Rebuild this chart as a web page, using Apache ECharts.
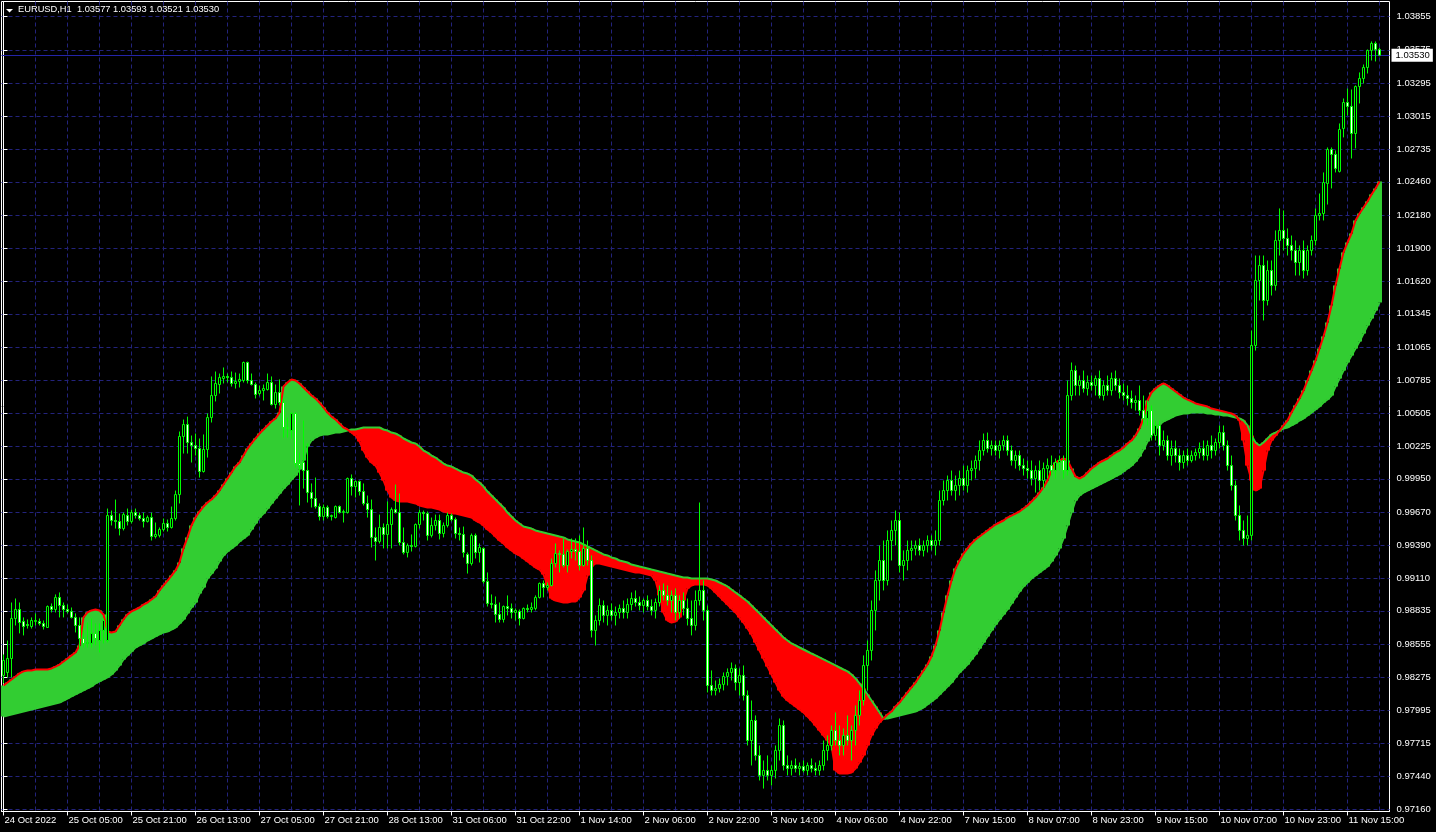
<!DOCTYPE html>
<html><head><meta charset="utf-8">
<script src="https://cdn.jsdelivr.net/npm/echarts@6/dist/echarts.min.js"></script>
<style>html,body{margin:0;padding:0;background:#000;}#c{width:1436px;height:832px;}</style>
</head><body><div id="c"></div>
<script>
const symbolName = 'EURUSD,H1';
const xTickLabels = ['24 Oct 2022','25 Oct 05:00','25 Oct 21:00','26 Oct 13:00','27 Oct 05:00','27 Oct 21:00','28 Oct 13:00','31 Oct 06:00','31 Oct 22:00','1 Nov 14:00','2 Nov 06:00','2 Nov 22:00','3 Nov 14:00','4 Nov 06:00','4 Nov 22:00','7 Nov 15:00','8 Nov 07:00','8 Nov 23:00','9 Nov 15:00','10 Nov 07:00','10 Nov 23:00','11 Nov 15:00'];
const yTickLabels = ['0.97160','0.97440','0.97715','0.97995','0.98275','0.98555','0.98835','0.99110','0.99390','0.99670','0.99950','1.00225','1.00505','1.00785','1.01065','1.01345','1.01620','1.01900','1.02180','1.02460','1.02735','1.03015','1.03295','1.03575','1.03855'];

const openP = [
0.98289,0.98314,0.98432,0.98770,0.98846,0.98745,0.98719,0.98702,0.98745,0.98745,
0.98728,0.98694,0.98871,0.98846,0.98948,0.98880,0.98846,0.98830,0.98779,0.98711,
0.98601,0.98559,0.98559,0.98644,0.98584,0.98669,0.98584,0.99640,0.99598,0.99590,
0.99530,0.99640,0.99590,0.99665,0.99640,0.99615,0.99590,0.99623,0.99463,0.99472,
0.99522,0.99573,0.99539,0.99615,0.99817,1.00308,1.00409,1.00257,1.00232,1.00206,
1.00012,1.00198,1.00468,1.00654,1.00747,1.00798,1.00815,1.00806,1.00756,1.00773,
1.00781,1.00933,1.00781,1.00747,1.00671,1.00696,1.00705,1.00764,1.00578,1.00679,
1.00595,1.00384,1.00358,1.00502,1.00079,1.00088,1.00020,0.99834,0.99784,0.99716,
0.99632,0.99708,0.99632,0.99623,0.99716,0.99665,0.99665,0.99953,0.99885,0.99928,
0.99843,0.99742,0.99690,0.99455,0.99421,0.99539,0.99480,0.99564,0.99690,0.99665,
0.99412,0.99328,0.99387,0.99379,0.99564,0.99665,0.99657,0.99472,0.99556,0.99598,
0.99488,0.99556,0.99640,0.99606,0.99488,0.99480,0.99311,0.99235,0.99472,0.99328,
0.99362,0.99083,0.98897,0.98888,0.98804,0.98762,0.98871,0.98855,0.98821,0.98830,
0.98770,0.98855,0.98846,0.98855,0.98948,0.99066,0.99032,0.99049,0.99235,0.99319,
0.99311,0.99218,0.99336,0.99353,0.99336,0.99218,0.99362,0.99260,0.98669,0.98753,
0.98880,0.98796,0.98838,0.98796,0.98821,0.98855,0.98821,0.98888,0.98939,0.98905,
0.98880,0.98922,0.98871,0.98838,0.98905,0.99007,0.98965,0.98922,0.98965,0.98821,
0.98922,0.98855,0.98770,0.98711,0.98922,0.99007,0.98838,0.98204,0.98162,0.98179,
0.98213,0.98280,0.98314,0.98348,0.98229,0.98289,0.98120,0.97739,0.97908,0.97613,
0.97444,0.97486,0.97444,0.97486,0.97655,0.97866,0.97528,0.97503,0.97528,0.97503,
0.97520,0.97486,0.97528,0.97503,0.97486,0.97528,0.97655,0.97697,0.97824,0.97739,
0.97697,0.97782,0.97739,0.97824,0.97951,0.98077,0.98373,0.98500,0.98838,0.99091,
0.99260,0.99091,0.99429,0.99514,0.99598,0.99218,0.99260,0.99345,0.99362,0.99387,
0.99345,0.99387,0.99429,0.99387,0.99429,0.99767,0.99851,0.99936,0.99851,0.99894,
0.99953,0.99894,1.00020,1.00037,1.00105,1.00189,1.00274,1.00206,1.00232,1.00189,
1.00232,1.00274,1.00189,1.00105,1.00147,1.00062,1.00037,1.00020,0.99953,1.00020,
0.99936,1.00037,1.00062,1.00020,1.00088,1.00105,1.00020,1.00654,1.00865,1.00739,
1.00781,1.00713,1.00764,1.00739,1.00798,1.00654,1.00739,1.00696,1.00798,1.00739,
1.00679,1.00654,1.00629,1.00595,1.00612,1.00527,1.00460,1.00527,1.00316,1.00401,
1.00232,1.00274,1.00147,1.00206,1.00147,1.00088,1.00147,1.00105,1.00147,1.00172,
1.00206,1.00147,1.00232,1.00189,1.00257,1.00341,1.00232,1.00062,0.99894,0.99640,
0.99514,0.99446,0.99472,1.01077,1.01626,1.01753,1.01457,1.01710,1.01584,1.01964,
1.02049,1.01981,1.01922,1.01880,1.01778,1.01880,1.01710,1.01880,1.01964,1.02175,
1.02192,1.02446,1.02733,1.02691,1.02548,1.02911,1.03130,1.03097,1.02868,1.03265,
1.03333,1.03426,1.03570,1.03629,1.03577];

const highP = [
0.98466,0.98584,0.98905,0.98939,0.98905,0.98779,0.98762,0.98779,0.98813,0.98770,
0.98753,0.98880,0.98897,0.98973,0.98990,0.98905,0.98888,0.98863,0.98813,0.98779,
0.98669,0.98736,0.98770,0.98728,0.98728,0.98770,0.99699,0.99682,0.99775,0.99657,
0.99665,0.99699,0.99690,0.99699,0.99665,0.99665,0.99640,0.99665,0.99581,0.99539,
0.99615,0.99606,0.99716,0.99851,1.00350,1.00451,1.00476,1.00316,1.00333,1.00291,
1.00325,1.00502,1.00815,1.00857,1.00840,1.00891,1.00840,1.00857,1.00848,1.00840,
1.00941,1.00941,1.00840,1.00764,1.00739,1.00747,1.00840,1.00815,1.00747,1.00790,
1.00629,1.00468,1.00510,1.00510,1.00172,1.00443,1.00249,0.99911,0.99961,0.99742,
0.99733,0.99725,0.99648,0.99725,0.99725,0.99690,0.99961,0.99987,0.99936,0.99936,
0.99911,0.99809,0.99775,0.99539,0.99648,0.99573,0.99759,0.99708,0.99902,0.99826,
0.99539,0.99404,0.99480,0.99573,0.99690,0.99682,0.99674,0.99623,0.99648,0.99648,
0.99581,0.99665,0.99657,0.99623,0.99539,0.99547,0.99328,0.99488,0.99488,0.99404,
0.99370,0.99159,0.98973,0.98956,0.98905,0.98880,0.98965,0.98897,0.98855,0.98846,
0.98863,0.98888,0.98905,0.98965,0.99074,0.99091,0.99074,0.99277,0.99404,0.99345,
0.99446,0.99353,0.99446,0.99446,0.99472,0.99539,0.99429,0.99303,0.98796,0.98939,
0.98922,0.98880,0.98897,0.98871,0.98888,0.98922,0.98939,0.98990,0.99007,0.98956,
0.98939,0.98965,0.98931,0.98939,0.99049,0.99066,0.99049,0.99007,0.99024,0.98965,
0.98990,0.98939,0.98922,0.99007,0.99750,0.99091,0.98880,0.98331,0.98246,0.98263,
0.98314,0.98348,0.98398,0.98381,0.98348,0.98373,0.98162,0.98077,0.97951,0.97697,
0.97570,0.97613,0.97528,0.97697,0.97925,0.97908,0.97613,0.97570,0.97587,0.97553,
0.97570,0.97553,0.97587,0.97553,0.97570,0.97739,0.97782,0.97866,0.97976,0.97866,
0.97841,0.97951,0.97866,0.98035,0.98162,0.98458,0.98584,0.98922,0.99176,0.99387,
0.99429,0.99514,0.99598,0.99682,0.99665,0.99345,0.99429,0.99429,0.99429,0.99446,
0.99429,0.99472,0.99472,0.99514,0.99851,0.99936,0.99978,1.00020,0.99978,1.00020,
1.00062,1.00062,1.00105,1.00147,1.00274,1.00333,1.00341,1.00274,1.00274,1.00274,
1.00316,1.00316,1.00232,1.00189,1.00189,1.00122,1.00105,1.00105,1.00062,1.00105,
1.00088,1.00122,1.00147,1.00122,1.00147,1.00147,1.00781,1.00933,1.00907,1.00823,
1.00865,1.00823,1.00823,1.00823,1.00865,1.00781,1.00823,1.00848,1.00865,1.00798,
1.00756,1.00739,1.00696,1.00654,1.00739,1.00654,1.00612,1.00570,1.00443,1.00443,
1.00358,1.00316,1.00274,1.00274,1.00206,1.00189,1.00206,1.00189,1.00206,1.00257,
1.00274,1.00274,1.00316,1.00291,1.00401,1.00401,1.00274,1.00147,0.99936,0.99725,
0.99598,0.99640,1.01203,1.01837,1.01837,1.01837,1.01795,1.01795,1.02049,1.02235,
1.02218,1.02066,1.02006,1.01964,1.01922,1.01964,1.01922,1.02006,1.02235,1.02361,
1.02539,1.02750,1.02750,1.02725,1.02953,1.03164,1.03248,1.03240,1.03274,1.03384,
1.03451,1.03578,1.03646,1.03646,1.03593];

const lowP = [
0.98221,0.98272,0.98272,0.98711,0.98644,0.98627,0.98685,0.98685,0.98711,0.98711,
0.98677,0.98694,0.98821,0.98821,0.98779,0.98779,0.98813,0.98770,0.98652,0.98516,
0.98525,0.98525,0.98525,0.98542,0.98483,0.98559,0.98567,0.99556,0.99530,0.99472,
0.99514,0.99556,0.99573,0.99615,0.99598,0.99539,0.99581,0.99429,0.99446,0.99455,
0.99505,0.99505,0.99530,0.99598,0.99742,1.00164,1.00164,1.00088,1.00147,0.99961,
1.00003,1.00130,1.00426,1.00604,1.00671,1.00756,1.00764,1.00730,1.00713,1.00722,
1.00764,1.00756,1.00739,1.00629,1.00654,1.00612,1.00696,1.00570,1.00544,1.00570,
1.00299,1.00299,1.00291,1.00046,0.99725,0.99868,0.99750,0.99708,0.99699,0.99598,
0.99598,0.99615,0.99598,0.99615,0.99657,0.99581,0.99657,0.99809,0.99792,0.99809,
0.99725,0.99623,0.99370,0.99260,0.99404,0.99362,0.99362,0.99362,0.99657,0.99387,
0.99311,0.99286,0.99336,0.99370,0.99530,0.99598,0.99429,0.99455,0.99514,0.99438,
0.99455,0.99539,0.99590,0.99446,0.99429,0.99286,0.99150,0.99218,0.99277,0.99243,
0.99066,0.98871,0.98855,0.98736,0.98736,0.98736,0.98796,0.98770,0.98753,0.98711,
0.98762,0.98821,0.98821,0.98838,0.98939,0.98948,0.99007,0.99041,0.99201,0.99159,
0.99201,0.99159,0.99277,0.99260,0.99176,0.99209,0.99218,0.98610,0.98542,0.98711,
0.98736,0.98711,0.98753,0.98711,0.98770,0.98770,0.98770,0.98838,0.98871,0.98838,
0.98821,0.98838,0.98796,0.98770,0.98871,0.98922,0.98880,0.98821,0.98753,0.98770,
0.98796,0.98711,0.98627,0.98669,0.98880,0.98753,0.98145,0.98120,0.98120,0.98145,
0.98162,0.98204,0.98246,0.98162,0.98120,0.98077,0.97697,0.97528,0.97570,0.97401,
0.97333,0.97401,0.97359,0.97418,0.97570,0.97486,0.97444,0.97444,0.97469,0.97444,
0.97469,0.97444,0.97469,0.97444,0.97444,0.97486,0.97570,0.97655,0.97697,0.97613,
0.97613,0.97697,0.97570,0.97697,0.97866,0.98035,0.98162,0.98415,0.98669,0.98922,
0.99007,0.99049,0.99260,0.99387,0.99159,0.99091,0.99176,0.99260,0.99303,0.99303,
0.99294,0.99328,0.99345,0.99303,0.99387,0.99725,0.99767,0.99809,0.99767,0.99809,
0.99851,0.99834,0.99936,0.99953,1.00020,1.00147,1.00172,1.00147,1.00147,1.00122,
1.00189,1.00147,1.00062,1.00037,1.00020,0.99978,0.99953,0.99894,0.99834,0.99851,
0.99868,0.99953,0.99978,0.99953,1.00020,0.99953,0.99978,1.00612,1.00654,1.00654,
1.00679,1.00654,1.00696,1.00654,1.00629,1.00612,1.00654,1.00654,1.00696,1.00629,
1.00612,1.00570,1.00544,1.00527,1.00485,1.00401,1.00401,1.00274,1.00274,1.00147,
1.00189,1.00105,1.00062,1.00088,1.00020,1.00037,1.00062,1.00088,1.00105,1.00122,
1.00105,1.00105,1.00122,1.00147,1.00206,1.00189,1.00020,0.99851,0.99598,0.99429,
0.99387,0.99387,0.99429,1.01034,1.01457,1.01288,1.01415,1.01499,1.01541,1.01837,
1.01880,1.01837,1.01795,1.01668,1.01668,1.01643,1.01668,1.01837,1.01922,1.02133,
1.02133,1.02268,1.02404,1.02539,1.02539,1.02835,1.03021,1.02657,1.02742,1.03122,
1.03291,1.03375,1.03485,1.03477,1.03521];

const closeP = [
0.98415,0.98432,0.98770,0.98846,0.98736,0.98702,0.98711,0.98753,0.98753,0.98728,
0.98702,0.98871,0.98846,0.98948,0.98880,0.98846,0.98830,0.98779,0.98711,0.98601,
0.98559,0.98567,0.98644,0.98601,0.98669,0.98753,0.99640,0.99598,0.99590,0.99530,
0.99648,0.99590,0.99665,0.99640,0.99615,0.99590,0.99623,0.99463,0.99480,0.99522,
0.99573,0.99539,0.99615,0.99817,1.00308,1.00409,1.00257,1.00232,1.00206,1.00012,
1.00198,1.00468,1.00654,1.00756,1.00806,1.00815,1.00806,1.00756,1.00773,1.00790,
1.00933,1.00781,1.00747,1.00663,1.00696,1.00713,1.00764,1.00578,1.00679,1.00595,
1.00384,1.00375,1.00502,1.00079,1.00062,1.00020,0.99834,0.99784,0.99716,0.99632,
0.99708,0.99632,0.99640,0.99716,0.99665,0.99674,0.99953,0.99885,0.99928,0.99843,
0.99742,0.99690,0.99455,0.99421,0.99539,0.99480,0.99564,0.99690,0.99665,0.99412,
0.99328,0.99387,0.99379,0.99564,0.99665,0.99657,0.99472,0.99556,0.99598,0.99488,
0.99556,0.99640,0.99606,0.99488,0.99480,0.99328,0.99235,0.99472,0.99328,0.99370,
0.99083,0.98897,0.98888,0.98804,0.98762,0.98871,0.98855,0.98821,0.98838,0.98770,
0.98855,0.98846,0.98863,0.98948,0.99066,0.99032,0.99049,0.99235,0.99319,0.99311,
0.99218,0.99336,0.99353,0.99336,0.99218,0.99362,0.99260,0.98669,0.98753,0.98880,
0.98796,0.98838,0.98796,0.98821,0.98855,0.98821,0.98888,0.98939,0.98905,0.98880,
0.98922,0.98871,0.98838,0.98905,0.99007,0.98965,0.98922,0.98965,0.98821,0.98922,
0.98855,0.98770,0.98711,0.98922,0.99007,0.98838,0.98204,0.98162,0.98179,0.98213,
0.98280,0.98314,0.98348,0.98229,0.98289,0.98120,0.97739,0.97908,0.97613,0.97444,
0.97486,0.97444,0.97486,0.97655,0.97866,0.97528,0.97503,0.97528,0.97503,0.97520,
0.97486,0.97528,0.97503,0.97486,0.97528,0.97655,0.97697,0.97824,0.97739,0.97697,
0.97782,0.97739,0.97824,0.97951,0.98077,0.98373,0.98500,0.98838,0.99091,0.99260,
0.99091,0.99429,0.99514,0.99598,0.99218,0.99260,0.99345,0.99362,0.99387,0.99345,
0.99387,0.99429,0.99387,0.99429,0.99767,0.99851,0.99936,0.99851,0.99894,0.99953,
0.99894,1.00020,1.00037,1.00105,1.00189,1.00274,1.00206,1.00232,1.00189,1.00232,
1.00274,1.00189,1.00105,1.00147,1.00062,1.00037,1.00020,0.99953,1.00020,0.99936,
1.00037,1.00062,1.00020,1.00088,1.00105,1.00020,1.00654,1.00865,1.00739,1.00781,
1.00713,1.00764,1.00739,1.00798,1.00654,1.00739,1.00696,1.00798,1.00739,1.00679,
1.00654,1.00629,1.00595,1.00612,1.00527,1.00460,1.00527,1.00316,1.00401,1.00232,
1.00274,1.00147,1.00206,1.00147,1.00088,1.00147,1.00105,1.00147,1.00172,1.00206,
1.00147,1.00232,1.00189,1.00257,1.00341,1.00232,1.00062,0.99894,0.99640,0.99514,
0.99446,0.99472,1.01077,1.01626,1.01753,1.01457,1.01710,1.01584,1.01964,1.02049,
1.01981,1.01922,1.01880,1.01778,1.01880,1.01710,1.01880,1.01964,1.02175,1.02192,
1.02454,1.02733,1.02691,1.02573,1.02902,1.03130,1.03097,1.02868,1.03265,1.03333,
1.03426,1.03570,1.03629,1.03577,1.03530];

const spanA = [
0.98204,0.98229,0.98255,0.98280,0.98306,0.98323,0.98331,0.98331,0.98339,0.98339,
0.98339,0.98339,0.98348,0.98364,0.98381,0.98407,0.98432,0.98458,0.98483,0.98542,
0.98779,0.98821,0.98838,0.98846,0.98838,0.98804,0.98660,0.98652,0.98660,0.98711,
0.98762,0.98804,0.98830,0.98846,0.98863,0.98888,0.98905,0.98931,0.98956,0.99007,
0.99049,0.99091,0.99133,0.99176,0.99243,0.99362,0.99455,0.99556,0.99623,0.99674,
0.99716,0.99750,0.99775,0.99809,0.99851,0.99902,0.99953,1.00003,1.00054,1.00088,
1.00147,1.00206,1.00249,1.00291,1.00333,1.00367,1.00401,1.00435,1.00460,1.00510,
1.00730,1.00764,1.00790,1.00781,1.00756,1.00722,1.00688,1.00654,1.00629,1.00595,
1.00553,1.00510,1.00476,1.00451,1.00418,1.00384,1.00367,1.00341,1.00316,1.00266,
1.00189,1.00130,1.00088,1.00062,1.00003,0.99936,0.99851,0.99792,0.99767,0.99759,
0.99759,0.99759,0.99750,0.99742,0.99725,0.99716,0.99708,0.99708,0.99699,0.99690,
0.99674,0.99665,0.99657,0.99657,0.99648,0.99640,0.99632,0.99623,0.99598,0.99581,
0.99556,0.99522,0.99497,0.99463,0.99429,0.99404,0.99370,0.99345,0.99319,0.99303,
0.99277,0.99252,0.99226,0.99201,0.99184,0.99142,0.99049,0.98939,0.98922,0.98914,
0.98905,0.98905,0.98914,0.98914,0.98948,0.99007,0.99133,0.99209,0.99235,0.99235,
0.99226,0.99218,0.99209,0.99201,0.99193,0.99184,0.99176,0.99167,0.99159,0.99159,
0.99150,0.99142,0.99133,0.99091,0.98965,0.98821,0.98753,0.98736,0.98745,0.98779,
0.98922,0.99024,0.99049,0.99058,0.99058,0.99058,0.99049,0.99024,0.98990,0.98956,
0.98922,0.98888,0.98855,0.98821,0.98779,0.98736,0.98685,0.98635,0.98567,0.98500,
0.98432,0.98364,0.98297,0.98229,0.98162,0.98111,0.98077,0.98052,0.98027,0.98001,
0.97976,0.97942,0.97908,0.97866,0.97824,0.97782,0.97739,0.97697,0.97486,0.97461,
0.97461,0.97461,0.97469,0.97503,0.97553,0.97613,0.97697,0.97782,0.97841,0.97891,
0.97925,0.97959,0.97984,0.98027,0.98060,0.98103,0.98145,0.98187,0.98229,0.98280,
0.98331,0.98381,0.98449,0.98542,0.98669,0.98821,0.98965,0.99091,0.99193,0.99260,
0.99319,0.99362,0.99404,0.99438,0.99463,0.99488,0.99514,0.99539,0.99564,0.99581,
0.99598,0.99623,0.99640,0.99657,0.99674,0.99699,0.99725,0.99759,0.99792,0.99834,
0.99877,0.99936,1.00020,1.00088,1.00105,1.00122,1.00105,1.00037,0.99970,0.99953,
0.99970,1.00003,1.00037,1.00062,1.00088,1.00105,1.00122,1.00147,1.00172,1.00189,
1.00215,1.00249,1.00274,1.00316,1.00375,1.00460,1.00612,1.00679,1.00713,1.00739,
1.00756,1.00739,1.00713,1.00688,1.00663,1.00637,1.00620,1.00604,1.00587,1.00578,
1.00570,1.00561,1.00544,1.00536,1.00527,1.00519,1.00510,1.00502,1.00485,1.00443,
1.00274,1.00062,0.99936,0.99851,0.99868,1.00020,1.00189,1.00274,1.00316,1.00358,
1.00401,1.00443,1.00510,1.00570,1.00629,1.00696,1.00781,1.00865,1.00950,1.01051,
1.01153,1.01271,1.01415,1.01584,1.01727,1.01863,1.01947,1.02023,1.02133,1.02192,
1.02243,1.02294,1.02353,1.02403,1.02463];

const spanB = [
0.97942,0.97951,0.97959,0.97967,0.97976,0.97984,0.97993,0.98001,0.98010,0.98018,
0.98027,0.98035,0.98044,0.98052,0.98060,0.98077,0.98094,0.98111,0.98128,0.98145,
0.98162,0.98179,0.98196,0.98221,0.98238,0.98255,0.98272,0.98297,0.98331,0.98373,
0.98424,0.98458,0.98491,0.98525,0.98542,0.98559,0.98584,0.98601,0.98618,0.98635,
0.98652,0.98660,0.98677,0.98694,0.98728,0.98762,0.98813,0.98863,0.98905,0.98981,
0.99032,0.99108,0.99150,0.99193,0.99252,0.99303,0.99336,0.99362,0.99387,0.99421,
0.99446,0.99472,0.99522,0.99573,0.99623,0.99657,0.99699,0.99742,0.99784,0.99826,
0.99868,0.99902,0.99944,0.99978,1.00029,1.00105,1.00223,1.00274,1.00299,1.00316,
1.00325,1.00325,1.00333,1.00341,1.00341,1.00350,1.00358,1.00367,1.00367,1.00375,
1.00384,1.00384,1.00384,1.00384,1.00384,1.00367,1.00358,1.00341,1.00333,1.00316,
1.00291,1.00274,1.00257,1.00249,1.00223,1.00189,1.00172,1.00147,1.00130,1.00105,
1.00079,1.00062,1.00054,1.00037,1.00020,1.00003,0.99995,0.99978,0.99944,0.99919,
0.99885,0.99843,0.99809,0.99775,0.99742,0.99708,0.99665,0.99632,0.99598,0.99573,
0.99547,0.99539,0.99530,0.99514,0.99505,0.99497,0.99488,0.99480,0.99472,0.99463,
0.99455,0.99438,0.99429,0.99421,0.99412,0.99396,0.99379,0.99362,0.99345,0.99328,
0.99311,0.99303,0.99286,0.99277,0.99260,0.99252,0.99243,0.99226,0.99218,0.99209,
0.99201,0.99193,0.99184,0.99176,0.99167,0.99159,0.99150,0.99142,0.99133,0.99125,
0.99117,0.99117,0.99108,0.99108,0.99108,0.99108,0.99108,0.99100,0.99091,0.99074,
0.99058,0.99041,0.99015,0.98990,0.98965,0.98939,0.98914,0.98880,0.98846,0.98813,
0.98779,0.98745,0.98711,0.98677,0.98644,0.98610,0.98584,0.98559,0.98542,0.98525,
0.98508,0.98491,0.98474,0.98458,0.98441,0.98424,0.98407,0.98390,0.98373,0.98356,
0.98339,0.98323,0.98297,0.98263,0.98221,0.98179,0.98128,0.98077,0.98027,0.97976,
0.97925,0.97925,0.97934,0.97942,0.97951,0.97959,0.97967,0.97976,0.97984,0.98001,
0.98018,0.98044,0.98069,0.98094,0.98128,0.98162,0.98196,0.98229,0.98272,0.98314,
0.98348,0.98381,0.98424,0.98466,0.98516,0.98567,0.98618,0.98669,0.98719,0.98762,
0.98804,0.98846,0.98897,0.98948,0.98998,0.99041,0.99074,0.99108,0.99133,0.99159,
0.99184,0.99209,0.99252,0.99303,0.99362,0.99446,0.99556,0.99665,0.99767,0.99809,
0.99834,0.99851,0.99868,0.99885,0.99902,0.99919,0.99936,0.99953,0.99970,0.99987,
1.00012,1.00037,1.00062,1.00096,1.00139,1.00198,1.00266,1.00333,1.00375,1.00409,
1.00435,1.00451,1.00468,1.00485,1.00494,1.00502,1.00502,1.00510,1.00510,1.00510,
1.00510,1.00502,1.00502,1.00494,1.00494,1.00485,1.00485,1.00477,1.00468,1.00460,
1.00443,1.00401,1.00316,1.00257,1.00232,1.00257,1.00291,1.00325,1.00341,1.00358,
1.00375,1.00384,1.00401,1.00418,1.00443,1.00460,1.00485,1.00510,1.00536,1.00561,
1.00595,1.00620,1.00654,1.00730,1.00798,1.00865,1.00933,1.00992,1.01051,1.01111,
1.01178,1.01246,1.01305,1.01372,1.01440];

// ---- build chart ----
const FONT = 'Tahoma, "Liberation Sans", Arial, sans-serif';
const AXIS_FONT_SIZE = 9.5;
const GRID_COLOR = '#23237c';
const N = closeP.length;
const SLOTS = N + 2;
const cats = Array.from({length: SLOTS}, (_, i) => String(i));
const candleData = closeP.map((c, i) => [openP[i], c, lowP[i], highP[i]]);
const cloudData = spanA.map((a, i) => [i, a, spanB[i]]);
const yTicks = yTickLabels.map(Number);
const xGridTicks = [];
for (let i = 0; i < SLOTS; i += 8) xGridTicks.push(i);
const last = N - 1;
const bidPrice = closeP[last];
const titleText = symbolName + '  ' + [openP[last], highP[last], lowP[last], closeP[last]].map(v => v.toFixed(5)).join(' ');

const chart = echarts.init(document.getElementById('c'), null, {renderer: 'canvas'});
chart.setOption({
  backgroundColor: '#000000',
  animation: false,
  grid: {left: 1.5, top: 1.5, width: 1388, height: 810, show: true, borderColor: '#ffffff', borderWidth: 1,
         backgroundColor: 'transparent', containLabel: false, outerBoundsMode: 'none'},
  xAxis: [
    {type: 'category', data: cats, boundaryGap: true, position: 'bottom',
     axisLine: {show: true, lineStyle: {color: '#ffffff', width: 1}},
     axisTick: {show: true, interval: 15, alignWithLabel: true, length: 4, lineStyle: {color: '#ffffff'}},
     axisLabel: {show: true, interval: 15, color: '#ffffff', fontFamily: FONT, fontSize: AXIS_FONT_SIZE, align: 'left',
                 margin: 4, padding: [0, 0, 0, 1],
                 formatter: (v, idx) => (xTickLabels[idx / 16] !== undefined ? xTickLabels[idx / 16] : '')},
     splitLine: {show: false}},
    {type: 'value', min: -0.5, max: SLOTS - 0.5, show: true, position: 'bottom',
     axisLine: {show: false}, axisLabel: {show: false},
     axisTick: {show: false, customValues: xGridTicks},
     splitLine: {show: true, lineStyle: {color: GRID_COLOR, type: [4, 3], width: 1}}}
  ],
  yAxis: {type: 'value', position: 'right', min: 0.971391, max: 1.039835, scale: true,
    axisLine: {show: true, lineStyle: {color: '#ffffff'}},
    axisTick: {show: true, length: 4, customValues: yTicks, lineStyle: {color: '#ffffff'}},
    axisLabel: {show: true, customValues: yTicks, color: '#ffffff', fontFamily: FONT, fontSize: AXIS_FONT_SIZE, margin: 7,
                formatter: v => v.toFixed(5)},
    splitLine: {show: true, lineStyle: {color: GRID_COLOR, type: [4, 3], width: 1}}},
  graphic: [
    {type: 'polygon', shape: {points: [[6, 9], [13, 9], [9.5, 12.5]]}, style: {fill: '#ffffff'}, z: 100},
    {type: 'text', left: 18, top: 5, style: {text: titleText, fill: '#ffffff', font: '9.3px ' + FONT}, z: 100}
  ],
  series: [
    {type: 'custom', name: 'cloud', xAxisIndex: 0, yAxisIndex: 0, data: cloudData, silent: true, z: 1,
     encode: {x: 0, y: [1, 2]},
     renderItem: function (params, api) {
       const i = api.value(0), a = api.value(1), b = api.value(2);
       const pa = api.coord([i, a]), pb = api.coord([i, b]);
       const w = api.size([1, 0])[0];
       const y0 = Math.min(pa[1], pb[1]);
       const h = Math.max(Math.abs(pa[1] - pb[1]), 1);
       return {type: 'rect', shape: {x: pa[0] - w / 2 - 0.5, y: y0, width: w + 1, height: h},
               style: {fill: a >= b ? '#32CD32' : '#FF0000'}};
     }},
    {type: 'line', name: 'spanB', data: spanB, symbol: 'none', silent: true, z: 2,
     lineStyle: {color: '#32CD32', width: 2}},
    {type: 'line', name: 'spanA', data: spanA, symbol: 'none', silent: true, z: 3,
     lineStyle: {color: '#FF0000', width: 2}},
    {type: 'custom', name: 'bid line', xAxisIndex: 0, yAxisIndex: 0, data: [[last, bidPrice]], silent: true, z: 3.5,
     clip: false, encode: {x: 0, y: 1},
     renderItem: function (params, api) {
       const cs = params.coordSys;
       const y = Math.round(api.coord([api.value(0), api.value(1)])[1]) + 0.5;
       return {type: 'line', shape: {x1: cs.x, y1: y, x2: cs.x + cs.width, y2: y},
               style: {stroke: '#2424a8', lineWidth: 1}};
     }},
    {type: 'candlestick', name: 'EURUSD', data: candleData, barWidth: 2, silent: true, z: 4, clip: false,
     itemStyle: {color: '#000000', color0: '#ffffff', borderColor: '#00FF00', borderColor0: '#00FF00',
                 borderColorDoji: '#00FF00', borderWidth: 1}},
    {type: 'custom', name: 'bid label', xAxisIndex: 0, yAxisIndex: 0, data: [[last, bidPrice]], silent: true, z: 20,
     clip: false, encode: {x: 0, y: 1},
     renderItem: function (params, api) {
       const cs = params.coordSys;
       const y = api.coord([api.value(0), api.value(1)])[1];
       return {type: 'text', x: cs.x + cs.width + 2, y: y,
               style: {text: api.value(1).toFixed(5), fill: '#000000', font: AXIS_FONT_SIZE + 'px ' + FONT,
                       backgroundColor: '#ffffff', padding: [2, 3, 1, 4], align: 'left', verticalAlign: 'middle'}};
     }}
  ]
});
</script>
</body></html>
